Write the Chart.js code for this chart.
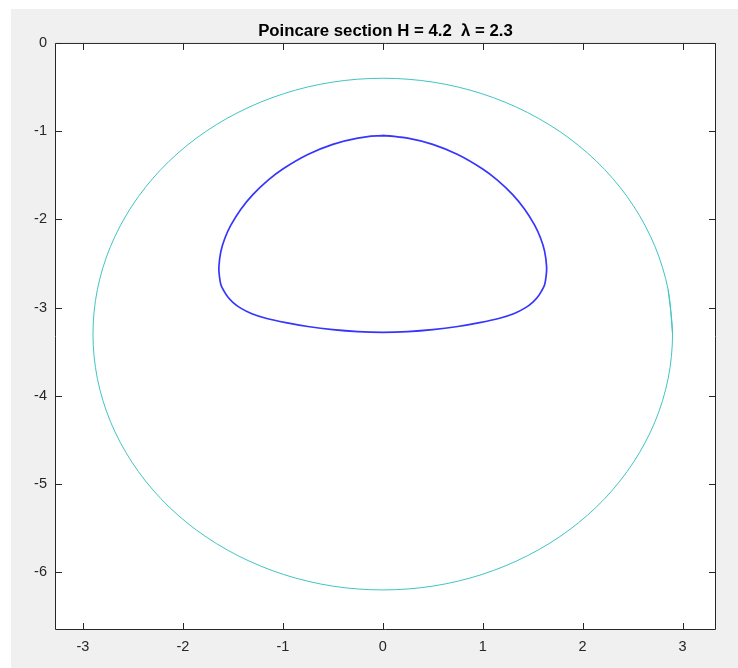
<!DOCTYPE html>
<html>
<head>
<meta charset="utf-8">
<script src="https://cdn.jsdelivr.net/npm/chart.js@4.4.1/dist/chart.umd.min.js"></script>
<style>
  html, body { margin: 0; padding: 0; background: #fff; }
  canvas { display: block; }
</style>
</head>
<body>
<canvas id="poincare" width="738" height="668"></canvas>
<script>
const axisGray = "#262626";
const figGray = "#f0f0f0";
const cyan = "#3fc5c3";
const blue = "rgba(25, 25, 255, 0.88)";

const xTicks = [-3, -2, -1, 0, 1, 2, 3];
const yTicks = [0, -1, -2, -3, -4, -5, -6];

// energy boundary; the last point repeats the second one to close the loop
const circleX = [2.900, 2.856, 2.725, 2.511, 2.222, 1.864, 1.450, 0.992, 0.504, 0.000,
  -0.504, -0.992, -1.450, -1.864, -2.222, -2.511, -2.725, -2.856, -2.900,
  -2.856, -2.725, -2.511, -2.222, -1.864, -1.450, -0.992, -0.504, 0.000,
  0.504, 0.992, 1.450, 1.864, 2.222, 2.511, 2.725, 2.856, 2.900, 2.856];
const circleY = [-3.300, -2.796, -2.308, -1.850, -1.436, -1.078, -0.789, -0.575, -0.444, -0.400,
  -0.444, -0.575, -0.789, -1.078, -1.436, -1.850, -2.308, -2.796, -3.300,
  -3.804, -4.292, -4.750, -5.164, -5.522, -5.811, -6.025, -6.156, -6.200,
  -6.156, -6.025, -5.811, -5.522, -5.164, -4.750, -4.292, -3.804, -3.300, -2.796];

// section points, clockwise from the top
const curveX = [0.00, 0.25, 0.50, 0.75, 1.00, 1.15, 1.30, 1.42, 1.52, 1.58, 1.62, 1.64,
  1.635, 1.62, 1.59, 1.55, 1.50, 1.43, 1.31, 1.17, 0.97, 0.75, 0.50, 0.25, 0.00,
  -0.25, -0.50, -0.75, -0.97, -1.17, -1.31, -1.43, -1.50, -1.55, -1.59, -1.62, -1.635, -1.64,
  -1.62, -1.58, -1.52, -1.42, -1.30, -1.15, -1.00, -0.75, -0.50, -0.25, 0.00, 0.25];
const curveY = [-1.050, -1.078, -1.150, -1.265, -1.429, -1.558, -1.719, -1.884, -2.065, -2.214, -2.362, -2.540,
  -2.640, -2.740, -2.810, -2.880, -2.940, -3.000, -3.070, -3.120, -3.170, -3.214, -3.250, -3.272, -3.280,
  -3.272, -3.250, -3.214, -3.170, -3.120, -3.070, -3.000, -2.940, -2.880, -2.810, -2.740, -2.640, -2.540,
  -2.362, -2.214, -2.065, -1.884, -1.719, -1.558, -1.429, -1.265, -1.150, -1.078, -1.050, -1.078];

const toPoints = (xs, ys) => xs.map((x, i) => ({ x: x, y: ys[i] }));

const frame = {
  id: "frame",
  beforeDraw(chart) {
    const { ctx, width, height, chartArea: a } = chart;
    ctx.save();
    ctx.fillStyle = "#fff";
    ctx.fillRect(0, 0, width, height);
    ctx.fillStyle = figGray;
    ctx.fillRect(11, 9, width - 11, height - 9);
    ctx.fillStyle = "#fff";
    ctx.fillRect(a.left, a.top, a.right - a.left, a.bottom - a.top);
    ctx.restore();
  },
  afterDraw(chart) {
    const { ctx, chartArea: a, scales } = chart;
    const L = a.left + 0.5, R = a.right - 0.5, T = a.top + 0.5, B = a.bottom - 0.5;
    ctx.save();
    ctx.strokeStyle = axisGray;
    ctx.lineWidth = 1;
    ctx.beginPath();
    ctx.rect(L, T, R - L, B - T);
    xTicks.forEach((v) => {
      const px = Math.round(scales.x.getPixelForValue(v)) + 0.5;
      ctx.moveTo(px, B); ctx.lineTo(px, B - 6.5);
      ctx.moveTo(px, T); ctx.lineTo(px, T + 6.5);
    });
    yTicks.forEach((v) => {
      const py = Math.round(scales.y.getPixelForValue(v)) + 0.5;
      ctx.moveTo(L, py); ctx.lineTo(L + 6.5, py);
      ctx.moveTo(R, py); ctx.lineTo(R - 6.5, py);
    });
    ctx.stroke();
    ctx.restore();
  },
};

const tickFont = { family: "'Liberation Sans', Arial, sans-serif", size: 14.5 };

new Chart(document.getElementById("poincare"), {
  type: "scatter",
  data: {
    datasets: [
      {
        label: "boundary",
        data: toPoints(circleX, circleY),
        showLine: true,
        borderColor: cyan,
        borderWidth: 1,
        pointRadius: 0,
        tension: 0.33,
      },
      {
        label: "section",
        data: toPoints(curveX, curveY),
        showLine: true,
        borderColor: blue,
        borderWidth: 1.7,
        pointRadius: 0,
        tension: 0.33,
      },
    ],
  },
  options: {
    responsive: false,
    animation: false,
    layout: {
      padding: { left: 11, top: 9, right: 22, bottom: 0 },
    },
    plugins: {
      legend: { display: false },
      tooltip: { enabled: false },
      title: {
        display: true,
        text: "Poincare section H = 4.2  \u03bb = 2.3",
        fullSize: false,
        color: "#000",
        font: { family: "'Liberation Sans', Arial, sans-serif", size: 16.8, weight: "bold" },
        padding: { top: 12.2, bottom: 1.6 },
      },
    },
    scales: {
      x: {
        type: "linear",
        min: -3.28,
        max: 3.335,
        grid: { display: false, drawTicks: false },
        border: { display: false },
        afterBuildTicks: (s) => { s.ticks = xTicks.map((v) => ({ value: v })); },
        afterFit: (s) => { s.height = 38; },
        ticks: { color: axisGray, font: tickFont, padding: 8, maxRotation: 0 },
      },
      y: {
        type: "linear",
        min: -6.654,
        max: 0,
        grid: { display: false, drawTicks: false },
        border: { display: false },
        afterBuildTicks: (s) => { s.ticks = yTicks.map((v) => ({ value: v })); },
        afterFit: (s) => { s.width = 44; },
        ticks: { color: axisGray, font: tickFont, padding: 8 },
      },
    },
  },
  plugins: [frame],
});
</script>
</body>
</html>
